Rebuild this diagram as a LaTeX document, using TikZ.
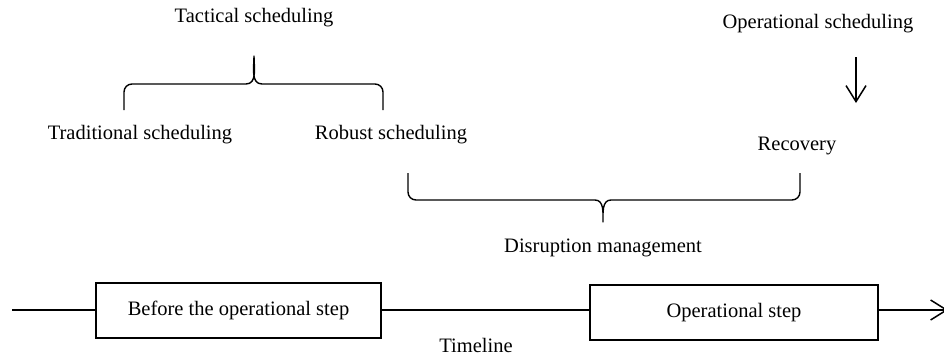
\documentclass[tikz,border=0pt]{standalone}
\usepackage{fontspec}
\setmainfont{Liberation Serif}
\usetikzlibrary{arrows.meta}
\begin{document}
\begin{tikzpicture}[x=1pt,y=-1pt,
  every node/.style={font=\fontsize{20.5}{24}\selectfont, inner sep=0pt},
  label/.style={anchor=center},
  stepbox/.style={draw, line width=1.2pt, minimum height=55pt},
  brace/.style={line width=1.4pt, line join=round},
  timeline/.style={line width=2.7pt},
  barb/.style={-{Straight Barb[length=16pt,width=20pt,line width=1.5pt]}}
]
\useasboundingbox (0,0) rectangle (944,356);

% labels
\node[label] (tact) at (254,18) {Tactical scheduling};
\node[label] (trad) at (140,135) {Traditional scheduling};
\node[label] (rob)  at (391,135) {Robust scheduling};
\node[label] (opsch) at (818,24) {Operational scheduling};
\node[label] (rec)  at (797,146) {Recovery};
\node[label] (dis)  at (603,248) {Disruption management};
\node[label] (tl)   at (476,345) {Timeline};

% upper brace, opening downwards
\draw[brace] (124,110) -- (124,92) to[out=90,in=180] (132,84) -- (246,84)
  to[out=0,in=-90] (254,56) to[out=-90,in=180] (262,84) -- (375,84)
  to[out=0,in=90] (383,92) -- (383,110);

% lower brace, opening upwards
\draw[brace] (408,173) -- (408,192) to[out=-90,in=180] (416,200) -- (595,200)
  to[out=0,in=90] (603,222) to[out=90,in=180] (611,200) -- (792,200)
  to[out=0,in=-90] (800,192) -- (800,173);

% arrow from operational scheduling to recovery
\coordinate (aTop) at (856,57);
\coordinate (aBot) at (856,103);
\draw[barb, line width=1.5pt] (aTop) -- (aBot);

% timeline with the two steps
\node[stepbox, minimum width=285pt] (b1) at (238.5,310.5) {Before the operational step};
\node[stepbox, minimum width=288pt] (b2) at (734,312.5) {Operational step};
\coordinate (tStart) at (12,310);
\coordinate (tEnd) at (948,310);
\draw[timeline] (tStart) -- (tStart -| b1.west);
\draw[timeline] (tStart -| b1.east) -- (tStart -| b2.west);
\draw[timeline, barb] (tStart -| b2.east) -- (tEnd);
\end{tikzpicture}
\end{document}
